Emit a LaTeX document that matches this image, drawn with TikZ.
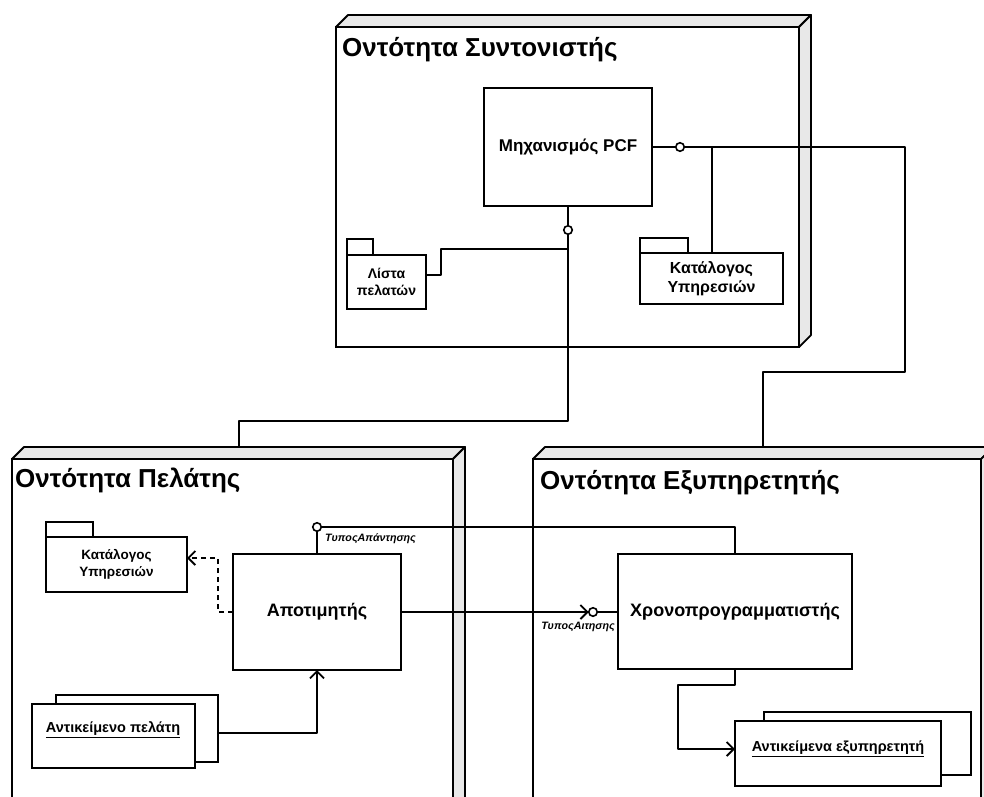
\documentclass[tikz,border=0pt]{standalone}
\usepackage{fontspec}
\setmainfont{Liberation Sans}
\usetikzlibrary{arrows.meta}
\begin{document}
\begin{tikzpicture}[x=1pt,y=-1pt,
  edge/.style={line width=1.9pt, line join=round},
  bandface/.style={draw, line width=1.8pt, fill=gray!18, line join=round},
  frontface/.style={draw, line width=1.8pt, fill=white, anchor=north west, inner sep=0pt, outer sep=0pt},
  titletext/.style={anchor=base west, inner sep=0pt, font=\bfseries\fontsize{26}{29}\selectfont},
  compbox/.style={draw, line width=1.7pt, fill=white, anchor=north west, inner sep=0pt, outer sep=0pt, align=center, font=\bfseries\fontsize{18}{21}\selectfont},
  pkgbody/.style={draw, line width=1.7pt, fill=white, anchor=north west, inner sep=0pt, outer sep=0pt, align=center},
  pkgtab/.style={draw, line width=1.7pt, fill=white, anchor=south west, inner sep=0pt, outer sep=0pt},
  objbox/.style={draw, line width=1.7pt, fill=white, anchor=north west, inner sep=0pt, outer sep=0pt},
  objtext/.style={inner sep=0pt, font=\bfseries\fontsize{14.5}{17}\selectfont},
  lolli/.style={circle, draw, line width=1.6pt, fill=white, minimum size=8.5pt, inner sep=0pt, outer sep=0pt},
  iflabel/.style={inner sep=0pt, font=\bfseries\itshape\fontsize{10.7}{12}\selectfont},
  openarrow/.style={-{Straight Barb[length=7pt,width=14pt]}}
]
\useasboundingbox (0,0) rectangle (984,796);
\clip (0,0) rectangle (984,796);

% ---------- Coordinator node (top)
\draw[bandface] (336,27) -- (348,15) -- (811,15) -- (799,27) -- cycle;
\draw[bandface] (799,27) -- (811,15) -- (811,335) -- (799,347) -- cycle;
\node[frontface, minimum width=463pt, minimum height=320pt] (coord) at (336,27) {};
\node[titletext] (coordtitle) at (342,56) {Οντότητα Συντονιστής};

% ---------- Client node (bottom left)
\draw[bandface] (12,459) -- (24,447) -- (465,447) -- (453,459) -- cycle;
\draw[bandface] (453,459) -- (465,447) -- (465,810) -- (453,822) -- cycle;
\node[frontface, minimum width=441pt, minimum height=360pt] (client) at (12,459) {};
\node[titletext] (clienttitle) at (15,487) {Οντότητα Πελάτης};

% ---------- Server node (bottom right)
\draw[bandface] (533,459) -- (545,447) -- (993,447) -- (981,459) -- cycle;
\draw[bandface] (981,459) -- (993,447) -- (993,810) -- (981,822) -- cycle;
\node[frontface, minimum width=448pt, minimum height=360pt] (server) at (533,459) {};
\node[titletext] (servertitle) at (540,489) {Οντότητα Εξυπηρετητής};

\coordinate (clienttop) at (239,447);
\coordinate (servertop) at (763,447);

% ---------- Inner components of coordinator
\node[compbox, minimum width=168pt, minimum height=118pt, font=\bfseries\fontsize{17}{20}\selectfont] (pcf) at (484,88) {Μηχανισμός PCF};

\node[pkgbody, minimum width=79pt, minimum height=54pt, font=\bfseries\fontsize{14}{16.5}\selectfont] (lista) at (347,255) {Λίστα\\πελατών};
\node[pkgtab, minimum width=26pt, minimum height=16pt] (listatab) at (lista.north west) {};

\node[pkgbody, minimum width=143pt, minimum height=51pt, font=\bfseries\fontsize{16}{18.5}\selectfont] (katA) at (640,253) {Κατάλογος\\Υπηρεσιών};
\node[pkgtab, minimum width=48pt, minimum height=15pt] (katAtab) at (katA.north west) {};

% ---------- Inner components of client
\node[pkgbody, minimum width=141pt, minimum height=55pt, font=\bfseries\fontsize{13.5}{16.5}\selectfont] (katB) at (46,537) {Κατάλογος\\Υπηρεσιών};
\node[pkgtab, minimum width=47pt, minimum height=15pt] (katBtab) at (katB.north west) {};

\node[compbox, minimum width=168pt, minimum height=116pt] (apo) at (233,554) {Αποτιμητής};

\node[objbox, minimum width=162pt, minimum height=67pt] (objCback) at (56,695) {};
\node[objbox, minimum width=163pt, minimum height=64pt] (objCfront) at (32,704) {};
\node[objtext] (objCtext) at (113,730) {\underline{Αντικείμενο πελάτη}};

% ---------- Inner components of server
\node[compbox, minimum width=234pt, minimum height=115pt] (chrono) at (618,554) {Χρονοπρογραμματιστής};

\node[objbox, minimum width=207pt, minimum height=63pt] (objSback) at (764,712) {};
\node[objbox, minimum width=206pt, minimum height=65pt] (objSfront) at (735,721) {};
\node[objtext] (objStext) at (838,749) {\underline{Αντικείμενα εξυπηρετητή}};

% ---------- Lollipop interfaces
\node[lolli] (lolA) at (pcf.east -| 680,0) {};
\node[lolli] (lolB) at (pcf.south |- 0,230) {};
\node[lolli] (lolC) at (apo.north |- 0,527) {};
\node[lolli] (lolD) at (apo.east -| 593,0) {};

\coordinate (jA) at (pcf.east -| 712,0);
\coordinate (jB) at (pcf.south |- 0,249);

% ---------- Connectors
\draw[edge] (pcf.east) -- (lolA.west);
\draw[edge] (lolA.east) -- (pcf.east -| 905,0) -- (905,372) -| (servertop);
\draw[edge] (jA) -- (katA.north -| jA);

\draw[edge] (pcf.south) -- (lolB.north);
\draw[edge] (lolB.south) -- (pcf.south |- 0,421) -| (clienttop);
\draw[edge] (lista.east |- 0,275) -| (441,249) -- (jB);

\draw[edge, dashed, dash pattern=on 5pt off 4pt, openarrow] (apo.west) -- (apo.west -| 218,0) -- (218,558) -- (katB.east |- 0,558);

\draw[edge] (apo.north) -- (lolC.south);
\draw[edge] (lolC.east) -| (chrono.north);
\node[iflabel, anchor=west] (lblresp) at (325,539) {ΤυποςΑπάντησης};

\draw[edge, openarrow] (apo.east) -- (lolD.west);
\draw[edge] (lolD.east) -- (chrono.west |- lolD.east);
\node[iflabel, anchor=east] (lblreq) at (615,627) {ΤυποςΑιτησης};

\draw[edge, openarrow] (objCback.east |- 0,733) -| (apo.south);

\draw[edge, openarrow] (chrono.south) -- (chrono.south |- 0,685) -| (678,749) -- (objSfront.west |- 0,749);

\end{tikzpicture}
\end{document}
